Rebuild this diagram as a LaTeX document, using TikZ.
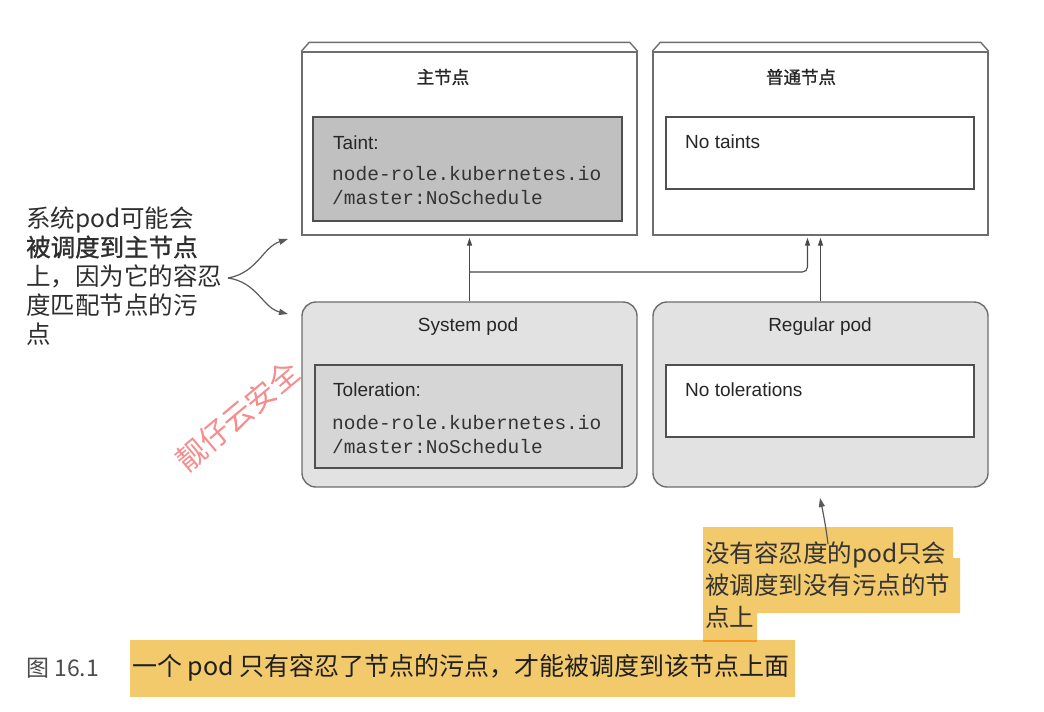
\documentclass[tikz,border=0pt]{standalone}
\usepackage{fontspec}
\setmainfont{Liberation Sans}
\newfontfamily\cjk{Noto Sans CJK SC}
\newfontfamily\cjkb[FakeBold=1.2]{Noto Sans CJK SC}
\newfontfamily\monof{Liberation Mono}
\usetikzlibrary{arrows.meta}
\definecolor{boxgray}{RGB}{110,110,110}
\definecolor{innerline}{RGB}{80,80,80}
\definecolor{masterfill}{RGB}{192,192,192}
\definecolor{podfill}{RGB}{226,226,226}
\definecolor{tolfill}{RGB}{214,214,214}
\definecolor{conncol}{RGB}{72,72,72}
\definecolor{hl}{RGB}{242,201,107}
\definecolor{wm}{RGB}{247,140,140}
\tikzset{
  nodebox/.style={draw=boxgray, line width=1.4pt, fill=white, minimum width=335pt, minimum height=183pt, inner sep=0pt},
  podbox/.style={draw=boxgray, line width=1.4pt, fill=podfill, rounded corners=14pt, minimum width=335pt, minimum height=185pt, inner sep=0pt},
  innerbox/.style={draw=innerline, line width=1.2pt, inner sep=0pt},
  lidline/.style={draw=boxgray, line width=1.4pt, line join=round},
  conn/.style={draw=conncol, line width=1.1pt, -{Triangle[length=8pt,width=5pt]}},
  ann/.style={draw=conncol!90, line width=1.2pt, -{Triangle[length=9pt,width=6pt]}},
  title/.style={font=\cjkb\fontsize{17.5pt}{20pt}\selectfont, text=black!85},
  lbl/.style={anchor=west, font=\fontsize{19pt}{22pt}\selectfont, text=black!85, inner sep=0pt},
  code/.style={anchor=west, font=\monof\fontsize{19.5pt}{24pt}\selectfont, text=black!80, inner sep=0pt},
  note/.style={anchor=west, align=left, inner sep=0pt},
}
\begin{document}
\begin{tikzpicture}[x=1pt,y=-1pt]
\useasboundingbox (0,0) rectangle (1044,712);
\fill[white] (0,0) rectangle (1044,712);

% node boxes
\node[nodebox] (master) at (469.5,143.5) {};
\node[nodebox] (regnode) at (820.5,143.5) {};
\foreach \n in {master,regnode}{
  \draw[lidline] (\n.north west) -- ([xshift=8pt,yshift=9pt]\n.north west) -- ([xshift=-8pt,yshift=9pt]\n.north east) -- (\n.north east);
}
\node[innerbox, fill=masterfill, minimum width=309pt, minimum height=104pt] (taintbox) at (467.5,169) {};
\node[innerbox, fill=white, minimum width=308pt, minimum height=72pt] (notaintbox) at (820,153) {};
\node[title] (mastertitle) at (443,77) {主节点};
\node[title] (regtitle) at (801,77) {普通节点};
\node[lbl] (taintlbl) at (333,143) {Taint:};
\node[code] (taint1) at (332,174) {node-role.kubernetes.io};
\node[code] (taint2) at (332,198) {/master:NoSchedule};
\node[lbl] (notaints) at (685,142) {No taints};

% pod boxes
\node[podbox] (syspod) at (469.5,394.5) {};
\node[podbox] (regpod) at (820.5,394.5) {};
\node[innerbox, fill=tolfill, minimum width=307pt, minimum height=103pt] (tolbox) at (468.5,416.5) {};
\node[innerbox, fill=white, minimum width=308pt, minimum height=72pt] (notolbox) at (820,401) {};
\node[font=\fontsize{19pt}{22pt}\selectfont, text=black!85] (systitle) at (468,327) {System pod};
\node[font=\fontsize{19pt}{22pt}\selectfont, text=black!85] (regptitle) at (820,327) {Regular pod};
\node[lbl] (tollbl) at (333,390) {Toleration:};
\node[code] (tol1) at (332,423) {node-role.kubernetes.io};
\node[code] (tol2) at (332,447) {/master:NoSchedule};
\node[lbl] (notols) at (685,390) {No tolerations};

% connectors
\coordinate (j) at (469.5,272);
\draw[conn] (syspod.north) -- ([yshift=-2pt]master.south);
\draw[conn, rounded corners=5pt] (j) -| ([xshift=-13pt,yshift=-2pt]regnode.south);
\draw[conn] (regpod.north) -- ([yshift=-2pt]regnode.south);

% watermark
\node[font=\cjk\fontsize{30pt}{32pt}\selectfont, text=wm, rotate=40] (wmark) at (238,416) {靓仔云安全};

% left annotation
\node[note, font=\cjk\fontsize{24.5pt}{29pt}\selectfont, text=black!82] (leftnote) at (26,276) {系统pod可能会\\{\cjkb 被调度到主节点}\\上，因为它的容忍\\度匹配节点的污\\点};
\coordinate (ls) at (228,278);
\coordinate (lt1) at (288,239);
\coordinate (lt2) at (288,314);
\draw[ann] (ls) .. controls (257,273) and (263,247) .. (lt1);
\draw[ann] (ls) .. controls (257,282) and (263,308) .. (lt2);

% bottom annotation
\fill[hl] (703,527) -- (953,527) -- (953,558) -- (960,558) -- (960,613) -- (757,613) -- (757,640) -- (703,640) -- cycle;
\node[note, font=\cjk\fontsize{24.5pt}{32pt}\selectfont, text=black!80] (botnote) at (705,585) {没有容忍度的pod只会\\被调度到没有污点的节\\点上};
\coordinate (bs) at (828,544);
\coordinate (bt) at (820,498);
\draw[ann] (bs) .. controls (826,527) and (823,512) .. (bt);

% caption
\fill[hl] (130,640) rectangle (795,697);
\draw[orange!70!hl, line width=2pt] (703,641) -- (757,641);
\node[anchor=west, inner sep=0pt, font=\cjk\fontsize{23pt}{24pt}\selectfont, text=black!70] (fignum) at (26,668) {图 16.1};
\node[anchor=west, inner sep=0pt, font=\cjk\fontsize{25pt}{27pt}\selectfont, text=black!88] (caption) at (132,668) {一个 pod 只有容忍了节点的污点，才能被调度到该节点上面};
\end{tikzpicture}
\end{document}
